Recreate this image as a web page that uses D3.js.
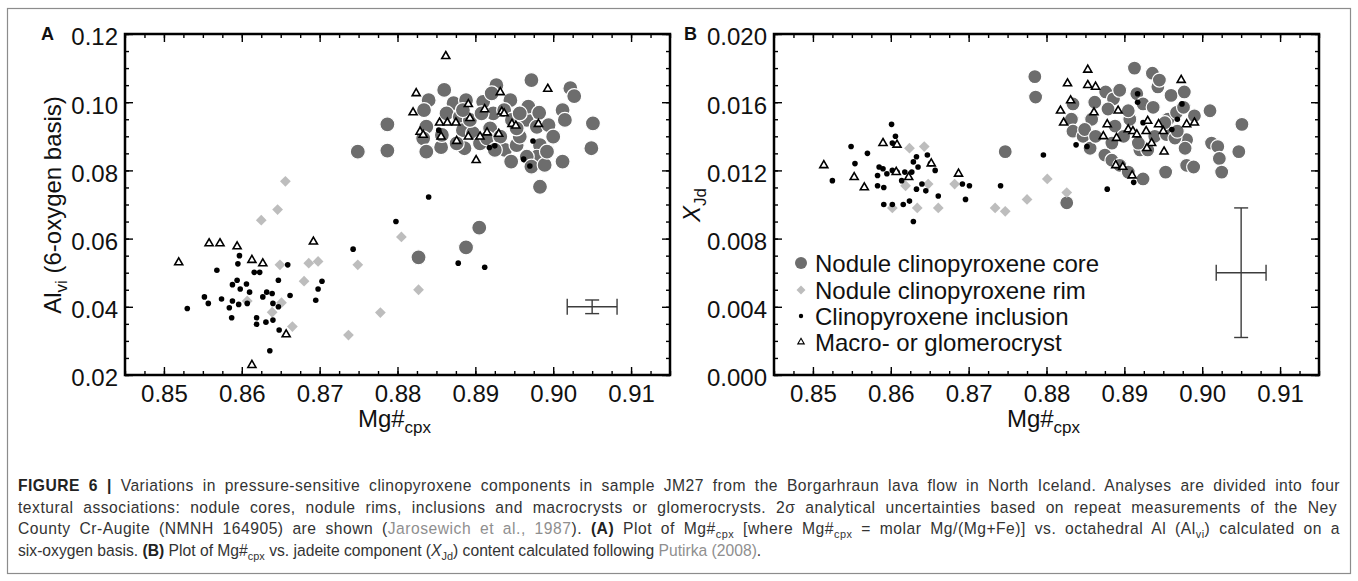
<!DOCTYPE html>
<html>
<head>
<meta charset="utf-8">
<script src="https://cdn.jsdelivr.net/npm/d3@7"></script>
<style>
  body { margin: 0; background: #fff; }
  svg { display: block; font-family: "Liberation Sans", Arial, sans-serif; }
</style>
</head>
<body>
<svg id="chart" width="1358" height="581"></svg>
<script>
// ---- data: [Mg#cpx, value] ----
var coreA = [[0.8749,0.0855],[0.8787,0.0858],[0.8787,0.0935],[0.8827,0.0545],[0.8888,0.0574],[0.8905,0.0632],
  [0.8860,0.1036],[0.8840,0.1006],[0.8834,0.0977],[0.8837,0.0928],[0.8833,0.0894],[0.8837,0.0855],[0.8856,0.0868],
  [0.8872,0.0997],[0.8863,0.0967],[0.8888,0.1006],[0.8880,0.0957],[0.8884,0.0918],[0.8886,0.0865],[0.8897,0.0909],
  [0.8910,0.1001],[0.8923,0.0967],[0.8927,0.1050],[0.8921,0.1026],[0.8945,0.1006],[0.8937,0.0977],[0.8947,0.0948],
  [0.8919,0.0923],[0.8906,0.0879],[0.8938,0.0860],[0.8946,0.0826],[0.8953,0.0874],[0.8966,0.0948],[0.8968,0.0987],
  [0.8982,0.0969],[0.8972,0.1065],[0.8979,0.0928],[0.8994,0.0933],[0.8983,0.0874],[0.8979,0.0840],[0.8966,0.0840],
  [0.8957,0.0899],[0.8972,0.0811],[0.8989,0.0816],[0.9012,0.0977],[0.9015,0.0948],[0.9012,0.0826],[0.9022,0.1041],
  [0.9027,0.1018],[0.9051,0.0938],[0.9049,0.0865],[0.8983,0.0752],[0.8876,0.0879],[0.8893,0.0948],[0.8915,0.0894],
  [0.8932,0.0899],[0.8953,0.0923],[0.8908,0.0967],[0.8957,0.0967],[0.8857,0.0904],[0.8925,0.0860],[0.9000,0.0899],
  [0.8992,0.0855],[0.8884,0.0977]];
var rimA = [[0.8656,0.0768],[0.8646,0.0685],[0.8625,0.0654],[0.8805,0.0605],[0.8749,0.0523],[0.8827,0.0450],
  [0.8649,0.0523],[0.8686,0.0528],[0.8698,0.0533],[0.8680,0.0475],[0.8639,0.0384],[0.8665,0.0342],[0.8737,0.0317],
  [0.8778,0.0383],[0.8607,0.0417],[0.8651,0.0412]];
var inclA = [[0.8530,0.0395],[0.8552,0.0429],[0.8557,0.0410],[0.8568,0.0507],[0.8574,0.0423],[0.8584,0.0397],
  [0.8587,0.0368],[0.8588,0.0465],[0.8588,0.0417],[0.8594,0.0478],[0.8595,0.0526],[0.8598,0.0452],[0.8596,0.0407],
  [0.8606,0.0467],[0.8607,0.0410],[0.8610,0.0443],[0.8616,0.0501],[0.8623,0.0501],[0.8619,0.0368],[0.8619,0.0349],
  [0.8627,0.0429],[0.8631,0.0355],[0.8632,0.0443],[0.8636,0.0271],[0.8639,0.0439],[0.8640,0.0410],[0.8640,0.0361],
  [0.8647,0.0478],[0.8647,0.0400],[0.8648,0.0332],[0.8659,0.0523],[0.8662,0.0433],[0.8695,0.0419],[0.8698,0.0452],
  [0.8703,0.0475],[0.8597,0.0550],[0.8743,0.0569],[0.8798,0.0650],[0.8840,0.0722],[0.8878,0.0528],[0.8912,0.0516],
  [0.8853,0.0918],[0.8918,0.0867],[0.8925,0.0872],[0.8974,0.0886],[0.8962,0.0833],[0.8970,0.0813]];
var macroA = [[0.8862,0.1135],[0.8824,0.1026],[0.8820,0.0970],[0.8854,0.0940],[0.8864,0.0940],[0.8875,0.0940],
  [0.8829,0.0913],[0.8833,0.0904],[0.8856,0.0899],[0.8876,0.0886],[0.8891,0.0994],[0.8893,0.0953],[0.8891,0.0899],
  [0.8912,0.0979],[0.8906,0.0899],[0.8915,0.0911],[0.8930,0.0907],[0.8932,0.1029],[0.8934,0.0972],[0.8937,0.0967],
  [0.8947,0.0936],[0.8952,0.0931],[0.8981,0.0936],[0.8993,0.1039],[0.8901,0.0830],[0.8519,0.0530],[0.8558,0.0586],
  [0.8572,0.0586],[0.8594,0.0577],[0.8613,0.0537],[0.8627,0.0527],[0.8692,0.0591],[0.8657,0.0319],[0.8613,0.0229]];

var coreB = [[0.8785,0.0175],[0.8786,0.0163],[0.8747,0.0131],[0.8826,0.0101],[0.8913,0.0180],[0.8936,0.0177],
  [0.8876,0.0166],[0.8886,0.0162],[0.8862,0.0160],[0.8834,0.0159],[0.8832,0.0150],[0.8834,0.0143],[0.8847,0.0140],
  [0.8856,0.0133],[0.8858,0.0150],[0.8879,0.0156],[0.8888,0.0146],[0.8884,0.0136],[0.8875,0.0129],[0.8884,0.0126],
  [0.8894,0.0123],[0.8905,0.0119],[0.8924,0.0115],[0.8907,0.0150],[0.8905,0.0155],[0.8916,0.0165],[0.8924,0.0159],
  [0.8920,0.0132],[0.8930,0.0132],[0.8939,0.0140],[0.8937,0.0157],[0.8943,0.0169],[0.8945,0.0173],[0.8960,0.0164],
  [0.8956,0.0150],[0.8954,0.0141],[0.8967,0.0154],[0.8977,0.0166],[0.8976,0.0157],[0.8980,0.0138],[0.8978,0.0133],
  [0.8965,0.0139],[0.8980,0.0123],[0.8989,0.0122],[0.8990,0.0152],[0.9010,0.0155],[0.9012,0.0136],[0.9020,0.0134],
  [0.9022,0.0127],[0.9025,0.0119],[0.9051,0.0147],[0.9047,0.0131],[0.8953,0.0119],[0.8899,0.0140],[0.8894,0.0167],
  [0.8849,0.0144],[0.8863,0.0140],[0.8918,0.0136],[0.8952,0.0148],[0.8968,0.0143]];
var rimB = [[0.8624,0.0133],[0.8643,0.0134],[0.8619,0.0111],[0.8648,0.0112],[0.8602,0.0098],[0.8634,0.0098],
  [0.8661,0.0098],[0.8682,0.0112],[0.8734,0.0098],[0.8747,0.0096],[0.8775,0.0103],[0.8801,0.0115],[0.8826,0.0107]];
var inclB = [[0.8525,0.0114],[0.8549,0.0134],[0.8554,0.0124],[0.8570,0.0130],[0.8601,0.0147],[0.8606,0.0140],
  [0.8602,0.0136],[0.8585,0.0122],[0.8590,0.0121],[0.8595,0.0118],[0.8602,0.0120],[0.8583,0.0117],[0.8583,0.0111],
  [0.8591,0.0110],[0.8608,0.0119],[0.8614,0.0114],[0.8618,0.0119],[0.8627,0.0119],[0.8629,0.0125],[0.8633,0.0128],
  [0.8635,0.0122],[0.8633,0.0109],[0.8640,0.0112],[0.8645,0.0108],[0.8647,0.0129],[0.8651,0.0124],[0.8657,0.0120],
  [0.8661,0.0105],[0.8591,0.0100],[0.8602,0.0100],[0.8616,0.0100],[0.8624,0.0102],[0.8629,0.0090],[0.8692,0.0112],
  [0.8701,0.0111],[0.8696,0.0103],[0.8741,0.0111],[0.8796,0.0129],[0.8878,0.0109],[0.8838,0.0135],[0.8852,0.0134],
  [0.8912,0.0113],[0.8917,0.0165],[0.8917,0.0160],[0.8924,0.0148],[0.8961,0.0144],[0.8968,0.0150],[0.8974,0.0159]];
var macroB = [[0.8853,0.0179],[0.8827,0.0171],[0.8853,0.0170],[0.8863,0.0169],[0.8831,0.0161],[0.8818,0.0155],
  [0.8822,0.0148],[0.8861,0.0154],[0.8892,0.0155],[0.8878,0.0147],[0.8873,0.0140],[0.8890,0.0139],[0.8905,0.0144],
  [0.8911,0.0143],[0.8916,0.0141],[0.8928,0.0143],[0.8930,0.0149],[0.8944,0.0147],[0.8950,0.0143],[0.8973,0.0173],
  [0.8980,0.0147],[0.8990,0.0148],[0.8935,0.0136],[0.8929,0.0133],[0.8951,0.0131],[0.8889,0.0123],[0.8898,0.0122],
  [0.8910,0.0117],[0.8514,0.0123],[0.8553,0.0116],[0.8566,0.0110],[0.8590,0.0136],[0.8608,0.0135],[0.8652,0.0124],
  [0.8687,0.0118],[0.8623,0.0116],[0.8607,0.0119]];

// 2 sigma uncertainty: [x, y, half-width in x, half-width in y]
var errA = [0.905, 0.040, 0.0032, 0.0020];
var errB = [0.905, 0.006, 0.0032, 0.0038];

var xTicks = [0.85, 0.86, 0.87, 0.88, 0.89, 0.90, 0.91];
var yTicksA = [0.02, 0.04, 0.06, 0.08, 0.10, 0.12];
var yTicksB = [0.000, 0.004, 0.008, 0.012, 0.016, 0.020];
var legendLabels = ['Nodule clinopyroxene core', 'Nodule clinopyroxene rim',
                    'Clinopyroxene inclusion', 'Macro- or glomerocryst'];

var svg = d3.select('#chart');

// outer figure frame
svg.append('rect')
    .attr('x', 7.5).attr('y', 8.5)
    .attr('width', 1343).attr('height', 565)
    .attr('fill', 'none').attr('stroke', '#8c8c8c').attr('stroke-width', 1.2);

var CORE = '#6d6d6d', RIM = '#bdbdbd';

function drawPanel(p) {
    var x = d3.scaleLinear().domain([0.845, 0.915]).range([p.left, p.right]);
    var y = d3.scaleLinear().domain(p.yDomain).range([375, 34]);
    var g = svg.append('g');

    var xMinor = d3.range(0.845, 0.9151, 0.0025);
    var yMinor = d3.range(p.yDomain[0], p.yDomain[1] + p.yMinorStep / 2, p.yMinorStep);

    function axisStyle(sel) {
        sel.select('.domain').remove();
        sel.selectAll('line').attr('stroke', '#000').attr('stroke-width', 1.4);
        sel.selectAll('text').attr('font-size', 24).attr('fill', '#111')
           .attr('font-family', '"Liberation Sans", Arial, sans-serif');
    }
    // bottom
    g.append('g').attr('transform', 'translate(0,375)')
        .call(d3.axisBottom(x).tickValues(xMinor).tickSize(-4).tickFormat('')).call(axisStyle);
    g.append('g').attr('transform', 'translate(0,375)')
        .call(d3.axisBottom(x).tickValues(xTicks).tickSize(-8).tickPadding(10).tickFormat(d3.format('.2f')))
        .call(axisStyle);
    // top
    g.append('g').attr('transform', 'translate(0,34)')
        .call(d3.axisTop(x).tickValues(xMinor).tickSize(-4).tickFormat('')).call(axisStyle);
    g.append('g').attr('transform', 'translate(0,34)')
        .call(d3.axisTop(x).tickValues(xTicks).tickSize(-8).tickFormat('')).call(axisStyle);
    // left
    g.append('g').attr('transform', 'translate(' + p.left + ',0)')
        .call(d3.axisLeft(y).tickValues(yMinor).tickSize(-4).tickFormat('')).call(axisStyle);
    g.append('g').attr('transform', 'translate(' + p.left + ',0)')
        .call(d3.axisLeft(y).tickValues(p.yTicks).tickSize(-8).tickPadding(7).tickFormat(d3.format(p.yFmt)))
        .call(axisStyle)
        .selectAll('text').attr('dy', '0.45em');
    // right
    g.append('g').attr('transform', 'translate(' + p.right + ',0)')
        .call(d3.axisRight(y).tickValues(yMinor).tickSize(-4).tickFormat('')).call(axisStyle);
    g.append('g').attr('transform', 'translate(' + p.right + ',0)')
        .call(d3.axisRight(y).tickValues(p.yTicks).tickSize(-8).tickFormat('')).call(axisStyle);

    // frame
    g.append('rect')
        .attr('x', p.left).attr('y', 34)
        .attr('width', p.right - p.left).attr('height', 341)
        .attr('fill', 'none').attr('stroke', '#000').attr('stroke-width', 2.5);

    // points
    var pts = g.append('g');
    pts.selectAll('circle.core').data(p.core).enter().append('circle')
        .attr('class', 'core')
        .attr('cx', function (d) { return x(d[0]); })
        .attr('cy', function (d) { return y(d[1]); })
        .attr('r', p.coreR)
        .attr('fill', CORE).attr('stroke', '#fff').attr('stroke-width', 1.2);
    pts.selectAll('path.rim').data(p.rim).enter().append('path')
        .attr('class', 'rim')
        .attr('d', d3.symbol(d3.symbolSquare, 58))
        .attr('transform', function (d) { return 'translate(' + x(d[0]) + ',' + y(d[1]) + ') rotate(45)'; })
        .attr('fill', RIM);
    pts.selectAll('circle.incl').data(p.incl).enter().append('circle')
        .attr('class', 'incl')
        .attr('cx', function (d) { return x(d[0]); })
        .attr('cy', function (d) { return y(d[1]); })
        .attr('r', 2.8)
        .attr('fill', '#000');
    pts.selectAll('path.macro').data(p.macro).enter().append('path')
        .attr('class', 'macro')
        .attr('d', d3.symbol(d3.symbolTriangle, 28))
        .attr('transform', function (d) { return 'translate(' + x(d[0]) + ',' + y(d[1]) + ')'; })
        .attr('fill', '#fff').attr('stroke', '#000').attr('stroke-width', 1.6);

    // error bar
    var e = p.err, eb = g.append('g').attr('stroke', '#3c3c3c').attr('stroke-width', 1.4);
    var cx = x(e[0]), cy = y(e[1]);
    var x0 = x(e[0] - e[2]), x1 = x(e[0] + e[2]);
    var y0 = y(e[1] - e[3]), y1 = y(e[1] + e[3]);
    eb.append('line').attr('x1', x0).attr('x2', x1).attr('y1', cy).attr('y2', cy);
    eb.append('line').attr('x1', x0).attr('x2', x0).attr('y1', cy - 8).attr('y2', cy + 8);
    eb.append('line').attr('x1', x1).attr('x2', x1).attr('y1', cy - 8).attr('y2', cy + 8);
    eb.append('line').attr('x1', cx).attr('x2', cx).attr('y1', y0).attr('y2', y1);
    eb.append('line').attr('x1', cx - 7).attr('x2', cx + 7).attr('y1', y0).attr('y2', y0);
    eb.append('line').attr('x1', cx - 7).attr('x2', cx + 7).attr('y1', y1).attr('y2', y1);

    // panel letter
    g.append('text').attr('x', p.letterX).attr('y', 40)
        .attr('font-size', 18).attr('font-weight', 'bold').attr('fill', '#111')
        .text(p.letter);

    // x axis title
    var xt = g.append('text')
        .attr('x', (p.left + p.right) / 2 - 3).attr('y', 427)
        .attr('text-anchor', 'middle').attr('font-size', 24).attr('fill', '#111');
    xt.append('tspan').text('Mg#');
    xt.append('tspan').attr('font-size', 17).attr('dy', 6).text('cpx');

    return { x: x, y: y, g: g };
}

var pA = drawPanel({
    left: 125, right: 670, yDomain: [0.02, 0.12], yMinorStep: 0.005, yTicks: yTicksA, yFmt: '.2f',
    core: coreA, rim: rimA, incl: inclA, macro: macroA, err: errA, letter: 'A', letterX: 41, coreR: 7.5
});
var pB = drawPanel({
    left: 774, right: 1319, yDomain: [0, 0.02], yMinorStep: 0.001, yTicks: yTicksB, yFmt: '.3f',
    core: coreB, rim: rimB, incl: inclB, macro: macroB, err: errB, letter: 'B', letterX: 684, coreR: 7
});

// y axis titles
var ya = svg.append('text')
    .attr('transform', 'translate(61,205) rotate(-90)')
    .attr('text-anchor', 'middle').attr('font-size', 24).attr('fill', '#111');
ya.append('tspan').text('Al');
ya.append('tspan').attr('font-size', 17).attr('dy', 6).text('vi');
ya.append('tspan').attr('dy', -6).text(' (6-oxygen basis)');

var yb = svg.append('text')
    .attr('transform', 'translate(700,205) rotate(-90)')
    .attr('text-anchor', 'middle').attr('font-size', 24).attr('fill', '#111');
yb.append('tspan').attr('font-style', 'italic').text('X');
yb.append('tspan').attr('font-size', 17).attr('dy', 6).text('Jd');

// legend in panel B
var legendY = [263, 290, 316, 342];
var lg = svg.append('g');
legendLabels.forEach(function (t, i) {
    var cy = legendY[i];
    if (i === 0) lg.append('circle').attr('cx', 801).attr('cy', cy).attr('r', 6).attr('fill', CORE);
    if (i === 1) lg.append('path').attr('d', d3.symbol(d3.symbolSquare, 40))
        .attr('transform', 'translate(801,' + cy + ') rotate(45)').attr('fill', RIM);
    if (i === 2) lg.append('circle').attr('cx', 801).attr('cy', cy).attr('r', 2.2).attr('fill', '#000');
    if (i === 3) lg.append('path').attr('d', d3.symbol(d3.symbolTriangle, 18))
        .attr('transform', 'translate(801,' + cy + ')')
        .attr('fill', '#fff').attr('stroke', '#000').attr('stroke-width', 1.1);
    lg.append('text').attr('x', 815).attr('y', cy + 8.5)
        .attr('font-size', 24).attr('fill', '#111').text(t);
});

// caption (slightly condensed face, lines 1-3 justified)
var captionLines = [
  [['FIGURE 6 |', 'b'], [' Variations in pressure-sensitive clinopyroxene components in sample JM27 from the Borgarhraun lava flow in North Iceland. Analyses are divided into four']],
  [['textural associations: nodule cores, nodule rims, inclusions and macrocrysts or glomerocrysts. 2\u03c3 analytical uncertainties based on repeat measurements of the Ney']],
  [['County Cr-Augite (NMNH 164905) are shown ('], ['Jarosewich et al., 1987', 'link'], ['). '], ['(A)', 'b'],
   [' Plot of Mg#'], ['cpx', 'sub'], [' [where Mg#'], ['cpx', 'sub'], [' = molar Mg/(Mg+Fe)] vs. octahedral Al (Al'],
   ['vi', 'sub'], [') calculated on a']],
  [['six-oxygen basis. '], ['(B)', 'b'], [' Plot of Mg#'], ['cpx', 'sub'], [' vs. jadeite component ('], ['X', 'i'],
   ['Jd', 'sub'], [') content calculated following '], ['Putirka (2008)', 'link'], ['.']]
];
var captionY = [491, 513, 534, 556];
var captionLen = [1322, 1319, 1322, 0];
var squeeze = 0.95;
captionLines.forEach(function (segs, i) {
    var t = svg.append('text')
        .attr('transform', 'translate(18,' + captionY[i] + ') scale(' + squeeze + ',1)')
        .attr('font-size', 16.5).attr('fill', '#333');
    var shifted = false;
    segs.forEach(function (s) {
        var ts = t.append('tspan').text(s[0]);
        if (s[1] === 'sub') {
            ts.attr('font-size', 11.5).attr('dy', 4);
            shifted = true;
            return;
        }
        if (shifted) { ts.attr('dy', -4); shifted = false; }
        if (s[1] === 'b') ts.attr('font-weight', 'bold').attr('fill', '#222');
        if (s[1] === 'i') ts.attr('font-style', 'italic');
        if (s[1] === 'link') ts.attr('fill', '#8f8f8f');
    });
    if (captionLen[i]) {
        var natural = t.node().getComputedTextLength();
        var str = segs.map(function (s) { return s[0]; }).join('');
        var spaces = str.split(' ').length - 1;
        var slack = captionLen[i] / squeeze - natural;
        if (slack > 0) {
            // share the slack between letters and word gaps
            t.attr('letter-spacing', slack * 0.45 / str.length)
             .attr('word-spacing', slack * 0.55 / spaces);
        } else {
            t.attr('textLength', captionLen[i] / squeeze).attr('lengthAdjust', 'spacingAndGlyphs');
        }
    }
});
</script>
</body>
</html>
